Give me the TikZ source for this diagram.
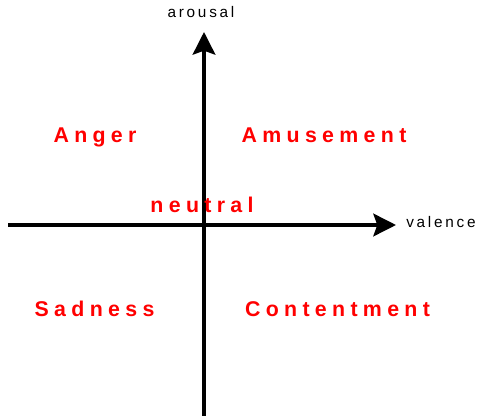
\documentclass[tikz,border=0pt]{standalone}
\usepackage{fontspec}
\setmainfont{Liberation Sans}
\newfontfamily\emofont[LetterSpace=25]{Liberation Sans}
\newfontfamily\axfont[LetterSpace=18]{Liberation Sans}
\usepackage{tikz}
\usetikzlibrary{arrows.meta}
\definecolor{emored}{RGB}{255,0,0}

\begin{document}
\begin{tikzpicture}[x=0.75pt, y=-0.75pt, >={Stealth[length=17pt, width=17pt, inset=3pt]},
    axis/.style={line width=2.6pt, ->},
    emo/.style={text=emored, anchor=base, inner sep=0pt, font=\emofont\bfseries\fontsize{16}{19}\selectfont},
    axlabel/.style={anchor=base, inner sep=0pt, font=\axfont\fontsize{11.5}{14}\selectfont}]
    \useasboundingbox (0,0) rectangle (481,416);

    % axes
    \coordinate (vlow) at (204,416);
    \coordinate (vhigh) at (204,32);
    \coordinate (hleft) at (8,225);
    \coordinate (hright) at (396,225);
    \draw[axis] (hleft) -- (hright);
    \draw[axis] (vlow) -- (vhigh);
    \node[axlabel] (arousal) at (201,18) {arousal};
    \node[axlabel, anchor=base west] (valence) at (406,228) {valence};

    % emotions
    \node[emo] (anger) at (95,143) {Anger};
    \node[emo] (amusement) at (324,143) {Amusement};
    \node[emo] (neutral) at (202,213) {neutral};
    \node[emo] (sadness) at (94.5,316) {Sadness};
    \node[emo] (content) at (337.5,316) {Contentment};
\end{tikzpicture}
\end{document}
